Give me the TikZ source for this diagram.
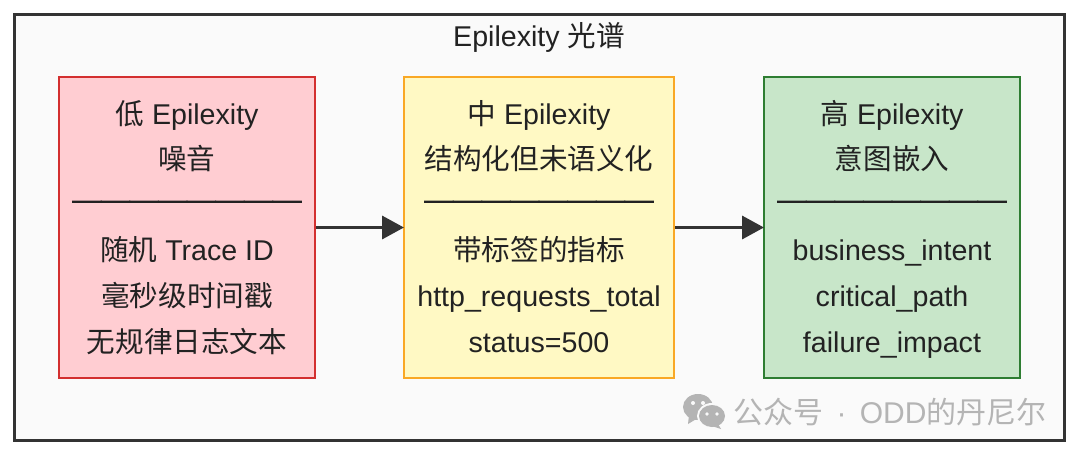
\documentclass[tikz,border=0pt]{standalone}
\usepackage{fontspec}
\usepackage{xcolor}
\setmainfont{Liberation Sans}
\newfontfamily\cjk{Noto Sans CJK SC}
\newfontfamily\cjkheavy[FakeBold=4]{Noto Sans CJK SC}
\usetikzlibrary{arrows.meta}
\definecolor{framecol}{HTML}{333333}
\definecolor{framebg}{HTML}{FAFAFA}
\definecolor{inkcol}{HTML}{222222}
\definecolor{markcol}{HTML}{B4B4B4}
\definecolor{lowfill}{HTML}{FFCDD2}
\definecolor{lowline}{HTML}{D32F2F}
\definecolor{midfill}{HTML}{FFF9C4}
\definecolor{midline}{HTML}{F9A825}
\definecolor{highfill}{HTML}{C8E6C9}
\definecolor{highline}{HTML}{2E7D32}
\newcommand{\zh}[1]{{\cjk #1}}
\newcommand{\sepline}{\raisebox{2.5pt}{\cjkheavy ────────}}
\newcommand{\rowtop}{\rule{0pt}{30pt}}
\newcommand{\rowend}{\rule[-9pt]{0pt}{9pt}}
\tikzset{
    band/.style={draw=#1, line width=2pt, minimum height=301pt, inner sep=0pt, align=center,
        text=inkcol, font=\fontsize{28.6}{45.6}\selectfont},
    flow/.style={draw=framecol, line width=3.5pt, -{Triangle[length=22pt, width=23pt]}, shorten >=-1pt}
}
\begin{document}
\begin{tikzpicture}[x=1pt, y=-1pt]
            \useasboundingbox (0, 0) rectangle (1080, 456);
            \node[draw=framecol, fill=framebg, line width=3.5pt, minimum width=1050pt, minimum height=426.4pt, inner sep=0pt] (frame) at (539.3, 227.5) {};
            \node[text=inkcol, font=\fontsize{28.6}{34}\selectfont] (title) at (539, 37) {Epilexity \zh{光谱}};

            \node[band=lowline, fill=lowfill, minimum width=256pt] (low) at (187, 227.5) {\rowtop\zh{低} Epilexity\\\zh{噪音}\\\sepline\\\zh{随机} Trace ID\\\zh{毫秒级时间戳}\\\zh{无规律日志文本}\rowend};
            \node[band=midline, fill=midfill, minimum width=270pt] (mid) at (539, 227.5) {\rowtop\zh{中} Epilexity\\\zh{结构化但未语义化}\\\sepline\\\zh{带标签的指标}\\http\_requests\_total\\status=500\rowend};
            \node[band=highline, fill=highfill, minimum width=256pt] (high) at (892, 227.5) {\rowtop\zh{高} Epilexity\\\zh{意图嵌入}\\\sepline\\business\_intent\\critical\_path\\failure\_impact\rowend};

            \draw[flow] (low) -- (mid);
            \draw[flow] (mid) -- (high);

            % watermark
            \fill[markcol] (698, 407) ellipse (15 and 13);
            \fill[markcol] (689, 415) -- (688, 424) -- (698, 418) -- cycle;
            \fill[framebg] (712, 416) ellipse (15 and 13);
            \fill[markcol] (712, 416) ellipse (13 and 11);
            \fill[markcol] (718, 424) -- (721, 429) -- (712, 426) -- cycle;
            \fill[framebg] (693, 403) circle (2) (703, 403) circle (2) (707, 414) circle (1.8) (717, 414) circle (1.8);
            \node[text=markcol, font=\fontsize{30}{34}\selectfont, anchor=west, inner sep=0pt] (mark) at (733, 412) {\zh{公众号}\kern5pt{} · \kern5pt{}ODD\zh{的丹尼尔}};
        \end{tikzpicture}
\end{document}
